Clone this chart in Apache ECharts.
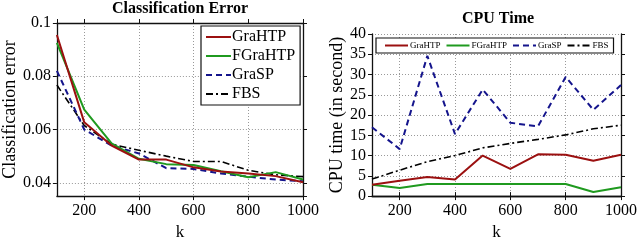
<!DOCTYPE html>
<html><head><meta charset="utf-8">
<script src="https://cdn.jsdelivr.net/npm/echarts@6/dist/echarts.min.js"></script>
<style>html,body{margin:0;padding:0;background:#fff}#c{width:640px;height:246px}</style>
</head><body><div id="c"></div>
<script>
var ks = [100, 200, 300, 400, 500, 600, 700, 800, 900, 1000];
var seriesNames = ['GraHTP', 'FGraHTP', 'GraSP', 'FBS'];
// Classification error
var errGraHTP  = [0.0955, 0.0627, 0.0540, 0.0487, 0.0487, 0.0458, 0.0442, 0.0435, 0.0425, 0.0402];
var errFGraHTP = [0.0925, 0.0675, 0.0548, 0.0490, 0.0470, 0.0467, 0.0443, 0.0421, 0.0440, 0.0412];
var errGraSP   = [0.0820, 0.0600, 0.0540, 0.0510, 0.0455, 0.0452, 0.0435, 0.0423, 0.0412, 0.0406];
var errFBS     = [0.0767, 0.0615, 0.0545, 0.0522, 0.0500, 0.0480, 0.0480, 0.0447, 0.0430, 0.0423];
// CPU time (s)
var cpuGraHTP  = [2.8, 3.8, 4.7, 4.1, 10.0, 6.7, 10.3, 10.2, 8.7, 10.2];
var cpuFGraHTP = [2.8, 2.0, 3.0, 3.0, 3.0, 3.0, 3.0, 3.0, 1.0, 2.2];
var cpuGraSP   = [17.0, 11.6, 34.6, 15.3, 26.3, 18.1, 17.2, 29.4, 21.3, 27.4];
var cpuFBS     = [4.2, 6.4, 8.5, 10.0, 11.9, 13.0, 14.0, 15.1, 16.6, 17.5];
var titles = ['Classification Error', 'CPU Time'];
var yNames = ['Classification error', 'CPU time (in second)'];
var xName = 'k';

var FONT = 'Liberation Serif';
var colors = ['#9b1010', '#1f9a1f', '#14148c', '#000000'];
var lineTypes = ['solid', 'solid', [6, 4], [7, 3, 2, 3]];
var widths = [2, 2, 2, 1.6];

function pairs(vals) { return ks.map(function (k, i) { return [k, vals[i]]; }); }
function plain(v) { return String(Math.round(v * 1000) / 1000); }

var errData = [errGraHTP, errFGraHTP, errGraSP, errFBS];
var cpuData = [cpuGraHTP, cpuFGraHTP, cpuGraSP, cpuFBS];

var series = [];
[errData, cpuData].forEach(function (set, g) {
  set.forEach(function (vals, i) {
    series.push({
      name: seriesNames[i], type: 'line', xAxisIndex: g * 2, yAxisIndex: g * 2,
      data: pairs(vals), symbol: 'none', animation: false,
      itemStyle: { color: colors[i] },
      lineStyle: { color: colors[i], width: widths[i], type: lineTypes[i] },
      z: 10 - i
    });
  });
});

var axisLine = { show: true, lineStyle: { color: '#111', width: 1.3 } };
var gridLine = { show: true, lineStyle: { color: '#999', type: [1, 2], width: 1 } };

function xAxes(gi) {
  var base = { type: 'value', gridIndex: gi, min: 100, max: 1000, minInterval: 200, maxInterval: 200, splitNumber: 4 };
  return [
    Object.assign({}, base, {
      position: 'bottom', axisLine: axisLine,
      axisTick: { show: true, inside: false, length: 4, lineStyle: { color: '#111' } },
      axisLabel: { show: true, showMinLabel: false, color: '#000', fontFamily: FONT, fontSize: 16, margin: 7, formatter: plain },
      splitLine: gridLine,
      name: xName, nameLocation: 'middle', nameGap: 22,
      nameTextStyle: { color: '#000', fontFamily: FONT, fontSize: 17 }
    }),
    Object.assign({}, base, {
      position: 'top', axisLine: axisLine,
      axisTick: { show: true, inside: false, length: 4, lineStyle: { color: '#111' } },
      axisLabel: { show: false }, splitLine: { show: false }
    })
  ];
}

function yAxes(gi, opt) {
  var base = Object.assign({ type: 'value', gridIndex: gi }, opt.scale);
  return [
    Object.assign({}, base, {
      position: 'left', axisLine: axisLine,
      axisTick: { show: true, inside: false, length: 4, lineStyle: { color: '#111' } },
      axisLabel: { show: true, showMinLabel: opt.showMin, color: '#000', fontFamily: FONT, fontSize: 16, margin: 6, formatter: plain },
      splitLine: gridLine,
      name: opt.name, nameLocation: 'middle', nameGap: opt.gap,
      nameTextStyle: { color: '#000', fontFamily: FONT, fontSize: 18 }
    }),
    Object.assign({}, base, {
      position: 'right', axisLine: axisLine,
      axisTick: { show: true, inside: false, length: 4, lineStyle: { color: '#111' } },
      axisLabel: { show: false }, splitLine: { show: false }
    })
  ];
}

function legendData() {
  return seriesNames.map(function (n) { return { name: n, itemStyle: { opacity: 0 } }; });
}

var option = {
  backgroundColor: '#fff',
  animation: false,
  title: [
    { text: titles[0], left: 175, top: -4, textAlign: 'center',
      textStyle: { fontFamily: FONT, fontSize: 16, fontWeight: 'bold', color: '#000' } },
    { text: titles[1], left: 493, top: 6, textAlign: 'center',
      textStyle: { fontFamily: FONT, fontSize: 16, fontWeight: 'bold', color: '#000' } }
  ],
  grid: [
    { left: 53, right: 337, top: 23, bottom: 36 },
    { left: 372, right: 17, top: 34, bottom: 35 }
  ],
  xAxis: xAxes(0).concat(xAxes(1)),
  yAxis: yAxes(0, { scale: { min: 0.035, max: 0.1, minInterval: 0.02, maxInterval: 0.02, splitNumber: 3 }, showMin: false, name: yNames[0], gap: 36 })
    .concat(yAxes(1, { scale: { min: 0, max: 40, interval: 5 }, showMin: true, name: yNames[1], gap: 26 })),
  legend: [
    { data: legendData(), orient: 'vertical', left: 201, top: 26, padding: [3, 5, 3, 4],
      itemWidth: 25, itemHeight: 10, itemGap: 3, borderColor: '#111', borderWidth: 1.2,
      backgroundColor: '#fff',
      textStyle: { fontFamily: FONT, fontSize: 16, color: '#000', padding: [0, 0, 0, -4] } },
    { data: legendData(), orient: 'horizontal', left: 376, top: 38, padding: [3, 5, 3, 8],
      itemWidth: 23, itemHeight: 8, itemGap: 5, borderColor: '#111', borderWidth: 1.2,
      backgroundColor: '#fff',
      textStyle: { fontFamily: FONT, fontSize: 9, color: '#000', padding: [0, 0, 0, -3] } }
  ],
  series: series
};
var chart = echarts.init(document.getElementById('c'), null, { renderer: 'canvas' });
chart.setOption(option);
</script></body></html>
